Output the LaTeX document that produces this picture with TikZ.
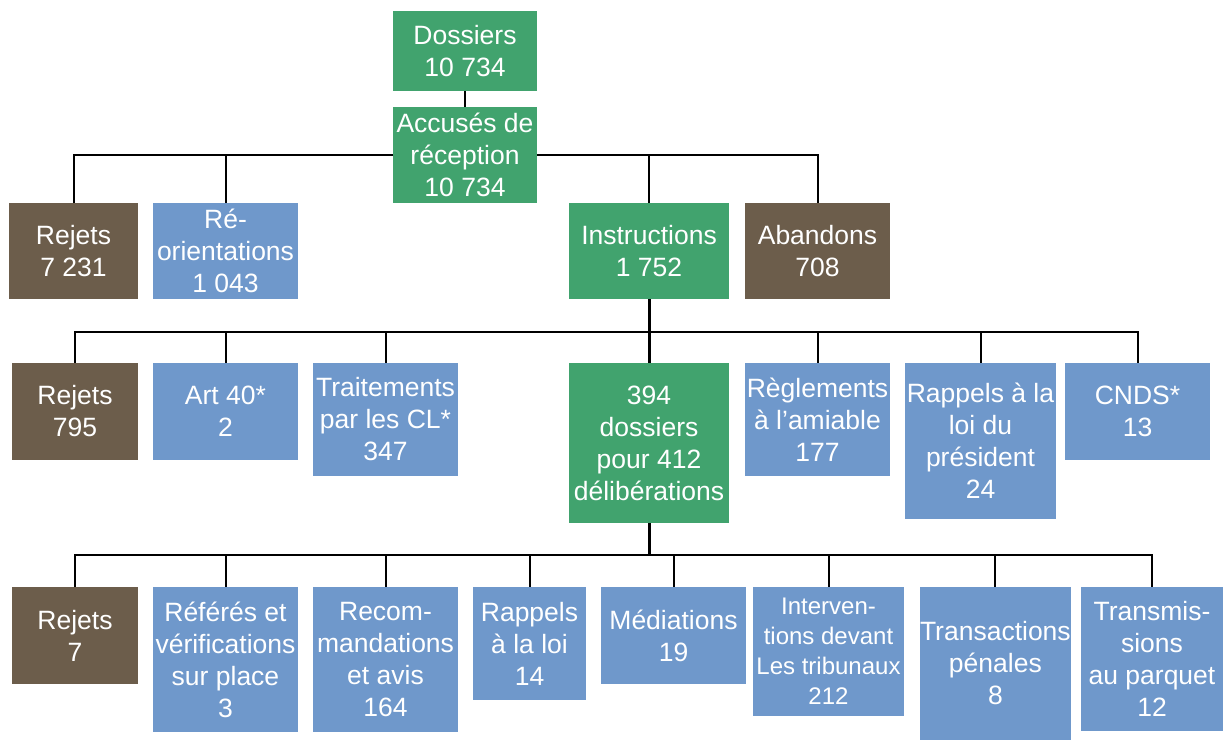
\documentclass[tikz,border=0pt]{standalone}
\usepackage{fontspec}
\setmainfont{Liberation Sans}
\definecolor{vert}{RGB}{65,163,110}
\definecolor{bleu}{RGB}{111,152,203}
\definecolor{brun}{RGB}{108,93,75}
\tikzset{
  case/.style={rectangle, inner sep=0pt, outer sep=0pt, text=white, align=center,
    font=\fontsize{26.5}{32}\selectfont, anchor=north west},
  vertcase/.style={case, fill=vert},
  bleucase/.style={case, fill=bleu},
  bruncase/.style={case, fill=brun},
  petit/.style={font=\fontsize{24}{30}\selectfont},
  lien/.style={line width=2pt},
  tronc/.style={line width=3pt}
}
\begin{document}
\begin{tikzpicture}[x=1pt,y=-1pt]
\useasboundingbox (0,0) rectangle (1223,740);

% tete
\node [vertcase, minimum width=144pt, minimum height=80pt] (dossiers) at (393,11) {Dossiers\\10 734};
\node [vertcase, minimum width=144pt, minimum height=96pt] (accuses) at (393,107) {Accusés de\\réception\\10 734};

% premier niveau
\node [bruncase, minimum width=129pt, minimum height=96pt] (rejetsA) at (9,203) {Rejets\\7 231};
\node [bleucase, minimum width=145pt, minimum height=96pt] (reorient) at (153,203) {Ré-\\orientations\\1 043};
\node [vertcase, minimum width=160pt, minimum height=96pt] (instr) at (569,203) {Instructions\\1 752};
\node [bruncase, minimum width=145pt, minimum height=96pt] (abandons) at (745,203) {Abandons\\708};

% deuxieme niveau
\node [bruncase, minimum width=126pt, minimum height=97pt] (rejetsB) at (12,363) {Rejets\\795};
\node [bleucase, minimum width=145pt, minimum height=97pt] (art) at (153,363) {Art 40*\\2};
\node [bleucase, minimum width=145pt, minimum height=113pt] (traitements) at (313,363) {Traitements\\par les CL*\\347};
\node [vertcase, minimum width=160pt, minimum height=160pt] (delib) at (569,363) {394\\dossiers\\pour 412\\délibérations};
\node [bleucase, minimum width=145pt, minimum height=113pt] (reglements) at (745,363) {Règlements\\à l’amiable\\177};
\node [bleucase, minimum width=151pt, minimum height=156pt] (rappelsP) at (905,363) {Rappels à la\\loi du\\président\\24};
\node [bleucase, minimum width=145pt, minimum height=97pt] (cnds) at (1065,363) {CNDS*\\13};

% troisieme niveau
\node [bruncase, minimum width=126pt, minimum height=97pt] (rejetsC) at (12,587) {Rejets\\7};
\node [bleucase, minimum width=145pt, minimum height=145pt] (referes) at (153,587) {Référés et\\vérifications\\sur place\\3};
\node [bleucase, minimum width=145pt, minimum height=145pt] (recom) at (313,587) {Recom-\\mandations\\et avis\\164};
\node [bleucase, minimum width=113pt, minimum height=113pt] (rappels) at (473,587) {Rappels\\à la loi\\14};
\node [bleucase, minimum width=145pt, minimum height=97pt] (mediations) at (601,587) {Médiations\\19};
\node [bleucase, petit, minimum width=151pt, minimum height=129pt] (interv) at (753,587) {Interven-\\tions devant\\Les tribunaux\\212};
\node [bleucase, minimum width=150pt, minimum height=153pt] (transac) at (920,587) {Transactions\\pénales\\8};
\node [bleucase, minimum width=142pt, minimum height=144pt] (transm) at (1081,587) {Transmis-\\sions\\au parquet\\12};

\coordinate (j2) at (649,332);
\coordinate (j3) at (649,555);

\draw [lien] (dossiers) -- (accuses);
\draw [lien] (accuses.west) -| (rejetsA.north);
\draw [lien] (accuses.west) -| (reorient.north);
\draw [lien] (accuses.east) -| (instr.north);
\draw [lien] (accuses.east) -| (abandons.north);

\draw [tronc] (instr.south) -- (delib.north);
\draw [lien] (j2) -| (rejetsB.north);
\draw [lien] (j2) -| (art.north);
\draw [lien] (j2) -| (traitements.north);
\draw [lien] (j2) -| (reglements.north);
\draw [lien] (j2) -| (rappelsP.north);
\draw [lien] (j2) -| (cnds.north);

\draw [tronc] (delib.south) -- (j3);
\draw [lien] (j3) -| (rejetsC.north);
\draw [lien] (j3) -| (referes.north);
\draw [lien] (j3) -| (recom.north);
\draw [lien] (j3) -| (rappels.north);
\draw [lien] (j3) -| (mediations.north);
\draw [lien] (j3) -| (interv.north);
\draw [lien] (j3) -| (transac.north);
\draw [lien] (j3) -| (transm.north);

\end{tikzpicture}
\end{document}
